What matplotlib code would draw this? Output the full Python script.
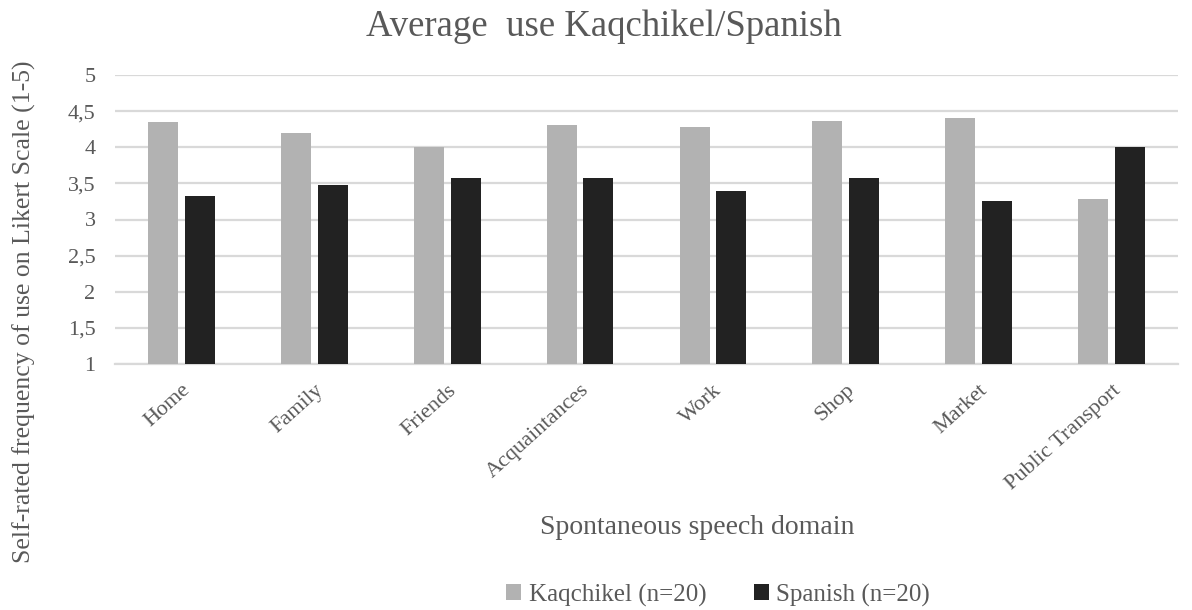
import numpy as np
import matplotlib.pyplot as plt

plt.rcParams['font.family'] = ['Liberation Serif', 'DejaVu Serif']

domains = ['Home', 'Family', 'Friends', 'Acquaintances', 'Work', 'Shop', 'Market', 'Public Transport']
kaqchikel = [4.35, 4.2, 4.0, 4.31, 4.28, 4.36, 4.41, 3.29]
spanish = [3.33, 3.48, 3.58, 3.58, 3.39, 3.58, 3.25, 4.0]
yticks = [1, 1.5, 2, 2.5, 3, 3.5, 4, 4.5, 5]
ytick_labels = ['1', '1,5', '2', '2,5', '3', '3,5', '4', '4,5', '5']

txt = '#595959'
fig = plt.figure(figsize=(11.92, 6.10), dpi=100, facecolor='w')
ax = fig.add_axes([115/1192, 1 - 364/610, 1063/1192, 289/610])

x = np.arange(len(domains))
w = 0.226
ax.bar(x - 0.138, np.array(kaqchikel) - 1, w, bottom=1, color='#b2b2b2', label='Kaqchikel (n=20)', zorder=3)
ax.bar(x + 0.138, np.array(spanish) - 1, w, bottom=1, color='#222222', label='Spanish (n=20)', zorder=3)

ax.set_xlim(-0.5, len(domains) - 0.5)
ax.set_ylim(1, 5)
ax.set_yticks(yticks)
ax.set_yticklabels(ytick_labels, fontsize=16, color=txt)
ax.set_xticks(x)
ax.set_xticklabels(domains, rotation=42, ha='right', rotation_mode='anchor', fontsize=16, color=txt)
ax.tick_params(axis='y', length=0, pad=14)
ax.tick_params(axis='x', length=0, pad=12)
ax.yaxis.grid(True, color='#d9d9d9', linewidth=1.6, zorder=0)
for s in ['top', 'right', 'left']:
    ax.spines[s].set_visible(False)
ax.spines['bottom'].set_color('#d9d9d9')
ax.spines['bottom'].set_linewidth(1.6)

fig.text(604/1192, 1 - 27/610, 'Average  use Kaqchikel/Spanish', ha='center', va='center', fontsize=26.5, color=txt)
fig.text(697/1192, 1 - 527/610, 'Spontaneous speech domain', ha='center', va='center', fontsize=20, color=txt)
fig.text(24/1192, 1 - 312/610, 'Self-rated frequency of use on Likert Scale (1-5)', ha='center', va='center',
         rotation=90, fontsize=18.5, color=txt)

fig.legend(loc='center', bbox_to_anchor=(718/1192, 1 - 595/610), ncol=2, frameon=False,
           fontsize=18, handlelength=0.6, handleheight=0.6, handletextpad=0.3, columnspacing=1.9,
           labelcolor=txt)

fig.savefig('out.png', dpi=100)
